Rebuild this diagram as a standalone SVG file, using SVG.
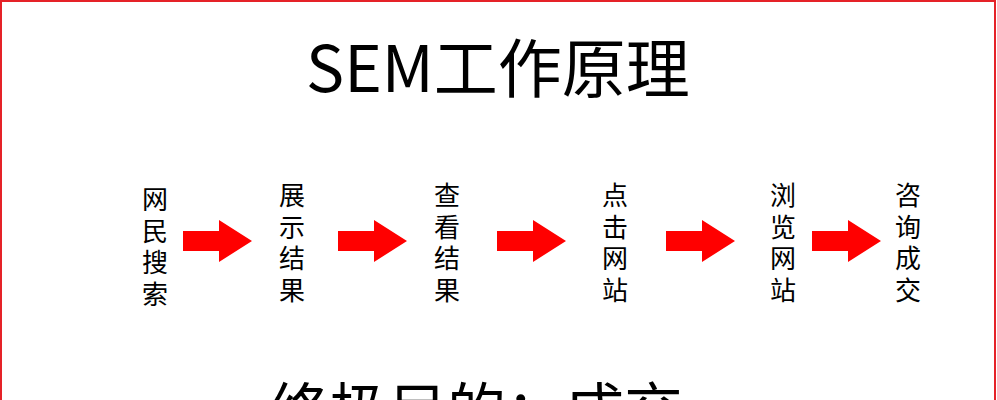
<svg xmlns="http://www.w3.org/2000/svg" xmlns:xlink="http://www.w3.org/1999/xlink" width="997" height="400" viewBox="0 0 997 400">
<style>
text { font-family: "Noto Sans CJK SC", "Noto Sans", sans-serif; fill: #000; }
.title { font-size: 64px; }
.col { font-size: 26px; text-anchor: middle; }
.bottom { font-size: 59px; }
.arrow { fill: #ff0000; }
</style>
<defs>
<path id="arr" d="M0,231 L36,231 L36,220 L69,241 L36,262 L36,251 L0,251 Z"/>
</defs>
<rect x="0" y="0" width="997" height="400" fill="#fff"/>
<rect x="1" y="1" width="994" height="440" fill="none" stroke="#e52228" stroke-width="2"/>
<g id="title"><text class="title" x="306" y="92">SEM工作原理</text></g>
<g id="n1">
<text class="col" x="155" y="209">网</text><text class="col" x="155" y="240.5">民</text><text class="col" x="155" y="272">搜</text><text class="col" x="155" y="303.5">索</text>
</g>
<g id="n2">
<text class="col" x="292" y="205">展</text><text class="col" x="292" y="236.5">示</text><text class="col" x="292" y="268">结</text><text class="col" x="292" y="299.5">果</text>
</g>
<g id="n3">
<text class="col" x="447" y="205">查</text><text class="col" x="447" y="236.5">看</text><text class="col" x="447" y="268">结</text><text class="col" x="447" y="299.5">果</text>
</g>
<g id="n4">
<text class="col" x="615" y="205">点</text><text class="col" x="615" y="236.5">击</text><text class="col" x="615" y="268">网</text><text class="col" x="615" y="299.5">站</text>
</g>
<g id="n5">
<text class="col" x="783" y="205">浏</text><text class="col" x="783" y="236.5">览</text><text class="col" x="783" y="268">网</text><text class="col" x="783" y="299.5">站</text>
</g>
<g id="n6">
<text class="col" x="908" y="205">咨</text><text class="col" x="908" y="236.5">询</text><text class="col" x="908" y="268">成</text><text class="col" x="908" y="299.5">交</text>
</g>
<g id="connectors">
<use xlink:href="#arr" class="arrow" x="183" y="0"/>
<use xlink:href="#arr" class="arrow" x="338" y="0"/>
<use xlink:href="#arr" class="arrow" x="497" y="0"/>
<use xlink:href="#arr" class="arrow" x="666" y="0"/>
<use xlink:href="#arr" class="arrow" x="812" y="0"/>
</g>
<g id="goal"><text class="bottom" x="270" y="432">终极目的：成交</text></g>
</svg>
